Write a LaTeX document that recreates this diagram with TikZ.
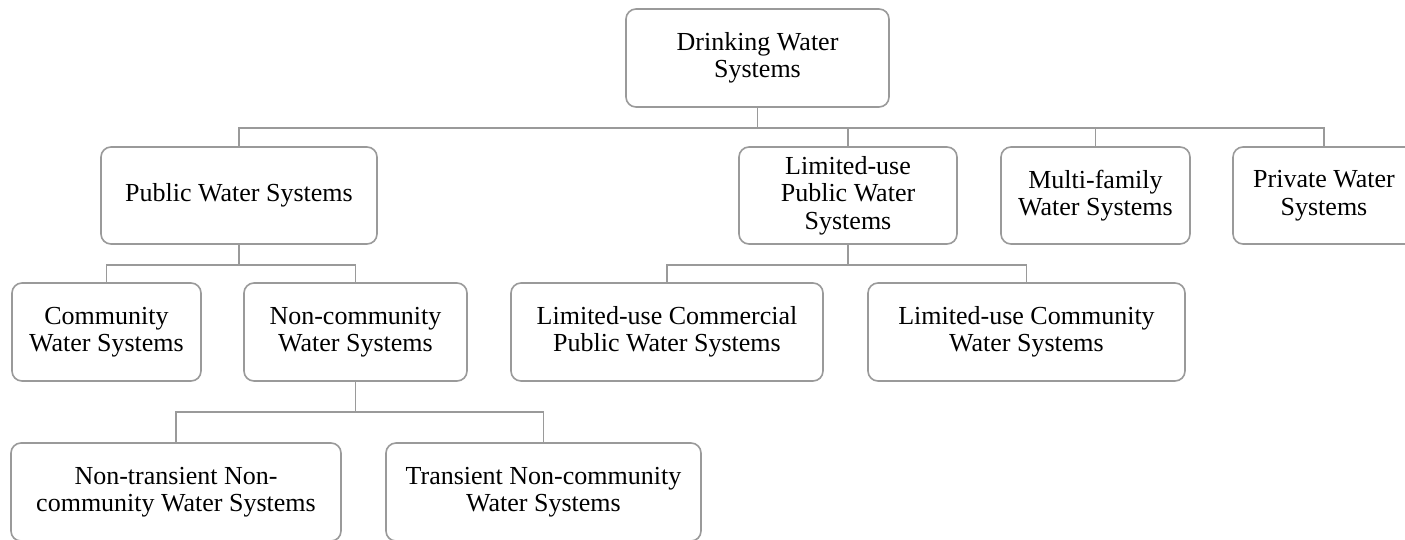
\documentclass[tikz,border=0pt]{standalone}
\usepackage{fontspec}
\setmainfont{Liberation Serif}
\usepackage{xcolor}
\usepackage{tikz}
\definecolor{dwgray}{HTML}{9A9A9A}

\begin{document}
\begin{tikzpicture}[x=1pt, y=-1pt, font=\fontsize{26}{27.5}\selectfont,
        box/.style={draw=dwgray, line width=1.6pt, rounded corners=10pt, fill=white, align=center, inner sep=0pt},
        link/.style={draw=dwgray, line width=1.6pt}]
        \useasboundingbox (0,0) rectangle (1405,539);
        \clip (0,0) rectangle (1405,539);
        % top level
        \node[box, minimum width=263, minimum height=98] (drink) at (757.5,58) {Drinking Water\\Systems};
        % second row
        \node[box, minimum width=276, minimum height=97] (pub) at (239,195.5) {Public Water Systems};
        \node[box, minimum width=218, minimum height=97] (lim) at (848,195.5) {Limited-use\\Public Water\\Systems};
        \node[box, minimum width=189, minimum height=97] (multi) at (1095.5,195.5) {Multi-family\\Water Systems};
        \node[box, minimum width=182, minimum height=97] (priv) at (1324,195.5) {Private Water\\Systems};
        % third row
        \node[box, minimum width=189, minimum height=98] (comm) at (106.5,332) {Community\\Water Systems};
        \node[box, minimum width=223, minimum height=98] (noncomm) at (355.5,332) {Non-community\\Water Systems};
        \node[box, minimum width=312, minimum height=98] (limcom) at (667,332) {Limited-use Commercial\\Public Water Systems};
        \node[box, minimum width=317, minimum height=98] (limcty) at (1026.5,332) {Limited-use Community\\Water Systems};
        % fourth row
        \node[box, minimum width=330, minimum height=98] (ntnc) at (176,492) {Non-transient Non-\\community Water Systems};
        \node[box, minimum width=315, minimum height=98] (tnc) at (543.5,492) {Transient Non-community\\Water Systems};
        % connectors
        \foreach \c in {pub, lim, multi, priv}
          \draw[link] (drink.south) -- ++(0,20) -| (\c.north);
        \foreach \c in {comm, noncomm}
          \draw[link] (pub.south) -- ++(0,20) -| (\c.north);
        \foreach \c in {limcom, limcty}
          \draw[link] (lim.south) -- ++(0,20) -| (\c.north);
        \foreach \c in {ntnc, tnc}
          \draw[link] (noncomm.south) -- ++(0,30) -| (\c.north);
      \end{tikzpicture}
\end{document}
